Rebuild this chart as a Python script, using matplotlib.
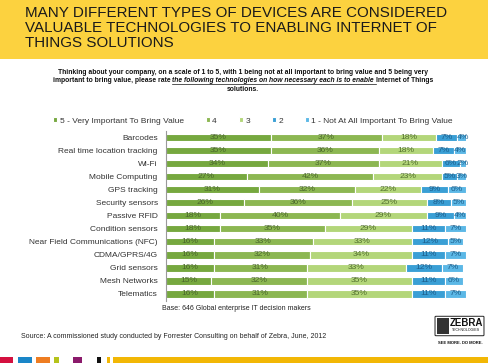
import numpy as np
import matplotlib
matplotlib.use('Agg')
import matplotlib.pyplot as plt
from matplotlib.patches import Rectangle, FancyBboxPatch

plt.rcParams['font.family'] = ['Liberation Sans', 'DejaVu Sans']

# Data
categories = ['Barcodes', 'Real time location tracking', 'Wi-Fi', 'Mobile Computing',
              'GPS tracking', 'Security sensors', 'Passive RFID', 'Condition sensors',
              'Near Field Communications (NFC)', 'CDMA/GPRS/4G', 'Grid sensors',
              'Mesh Networks', 'Telematics']
very_important = [35, 35, 34, 27, 31, 26, 18, 18, 16, 16, 16, 15, 16]
level_4 = [37, 36, 37, 42, 32, 36, 40, 35, 33, 32, 31, 32, 31]
level_3 = [18, 18, 21, 23, 22, 25, 29, 29, 33, 34, 33, 35, 35]
level_2 = [7, 7, 6, 5, 9, 8, 9, 11, 12, 11, 12, 11, 11]
not_important = [4, 4, 2, 3, 6, 5, 4, 7, 5, 7, 7, 6, 7]

series_names = ['5 - Very Important To Bring Value', '4', '3', '2',
                '1 - Not At All Important To Bring Value']
series = [very_important, level_4, level_3, level_2, not_important]
colors = ['#76a83f', '#8cb752', '#b3d67a', '#3a9fd5', '#5cb8e6']
label_colors = ['#4a672c', '#4a672c', '#52702e', '#1d5f8c', '#1d5f8c']

W, H = 489, 363
fig = plt.figure(figsize=(W / 100, H / 100), dpi=100)
fig.patch.set_facecolor('white')


def fx(x):
    return x / W


def fy(y):
    return 1 - y / H


# Header band
fig.patches.append(Rectangle((0, fy(59)), 1, 59 / H, transform=fig.transFigure,
                             facecolor='#fcd23f', edgecolor='none', zorder=0))
title_lines = ['MANY DIFFERENT TYPES OF DEVICES ARE CONSIDERED',
               'VALUABLE TECHNOLOGIES TO ENABLING INTERNET OF',
               'THINGS SOLUTIONS']
for i, line in enumerate(title_lines):
    fig.text(fx(25), fy(16.7 + 15 * i), line, fontsize=10.9, color='#1a1a1a',
             ha='left', va='baseline')

# Question text
qsize = 4.85
fig.text(fx(243), fy(72.5), 'Thinking about your company, on a scale of 1 to 5, with 1 being not '
         'at all important to bring value and 5 being very', fontsize=qsize,
         fontweight='bold', ha='center', va='center', color='#111111')
fig.text(fx(243), fy(89.3), 'solutions.', fontsize=qsize, fontweight='bold',
         ha='center', va='center', color='#111111')

pieces = [('important to bring value, please rate ', 'normal', False),
          ('the following technologies on', 'italic', True),
          (' ', 'normal', False),
          ('how necessary each is to enable ', 'italic', True),
          ('Internet of Things', 'normal', False)]
renderer = fig.canvas.get_renderer()
texts = []
widths = []
for s, style, ul in pieces:
    t = fig.text(0, fy(81), s, fontsize=qsize, fontweight='bold', style=style,
                 ha='left', va='center', color='#111111')
    bb = t.get_window_extent(renderer)
    texts.append(t)
    widths.append(bb.width)
x0 = 243 - sum(widths) / 2
for (s, style, ul), t, w in zip(pieces, texts, widths):
    t.set_x(fx(x0))
    if ul:
        fig.lines.append(plt.Line2D([fx(x0), fx(x0 + w)], [fy(84.3), fy(84.3)],
                                    transform=fig.transFigure, color='#111111',
                                    linewidth=0.5))
    x0 += w

# Bars
ax = fig.add_axes([fx(166), fy(300.5), 300 / W, (300.5 - 131.2) / H])
y = np.arange(len(categories))
left = np.zeros(len(categories))
for vals, c, lc, name in zip(series, colors, label_colors, series_names):
    vals = np.array(vals, dtype=float)
    ax.barh(y, vals, left=left, height=0.55, color=c, edgecolor='white',
            linewidth=0.8, label=name)
    for yi, (l, v) in enumerate(zip(left, vals)):
        ax.text(l + v / 2, yi, f'{int(v)}%', ha='center', va='center',
                fontsize=6.1, color=lc)
    left += vals

ax.set_xlim(0, 100)
ax.set_ylim(len(categories) - 0.5, -0.5)
ax.set_yticks(y)
ax.set_yticklabels(categories, fontsize=6, color='#333333')
ax.tick_params(axis='y', length=0, pad=6)
ax.set_xticks([])
for side in ['top', 'right', 'bottom']:
    ax.spines[side].set_visible(False)
ax.spines['left'].set_color('#9a9a9a')
ax.spines['left'].set_linewidth(0.8)
ax.set_facecolor('none')

leg = fig.legend(loc='center', bbox_to_anchor=(fx(253), fy(121)), ncol=5,
                 frameon=False, fontsize=6, handlelength=0.5, handleheight=0.5,
                 handletextpad=0.3, columnspacing=2.6, labelcolor='#333333')

fig.text(fx(236), fy(308), 'Base: 646 Global enterprise IT decision makers',
         fontsize=5.0, ha='center', va='center', color='#222222')
fig.text(fx(21), fy(336), 'Source: A commissioned study conducted by Forrester '
         'Consulting on behalf of Zebra, June, 2012', fontsize=5.0, ha='left',
         va='center', color='#222222')

# Logo
fig.patches.append(FancyBboxPatch((fx(436), fy(335)), 47 / W, 18 / H,
                                  boxstyle='round,pad=0.002', transform=fig.transFigure,
                                  facecolor='white', edgecolor='#222222', linewidth=0.7))
fig.patches.append(Rectangle((fx(437.5), fy(334)), 12 / W, 16 / H,
                             transform=fig.transFigure, facecolor='#333333',
                             edgecolor='none'))
fig.text(fx(466), fy(322.5), 'ZEBRA', fontsize=7, fontweight='bold', ha='center',
         va='center', color='#111111')
fig.text(fx(466), fy(330), 'TECHNOLOGIES', fontsize=2.6, ha='center', va='center',
         color='#111111')
fig.text(fx(460), fy(343.5), 'SEE MORE. DO MORE.', fontsize=3, fontweight='bold',
         ha='center', va='center', color='#111111')

# Bottom colour strip
strip = [(0, 13, '#d4103f'), (18, 14, '#1a86c8'), (36, 14, '#ee7d22'),
         (54, 5, '#b5c31b'), (73, 9, '#8b1a6b'), (97, 4, '#111111'),
         (107, 3, '#f2b705'), (113, 376, '#f2b705')]
for x, w, c in strip:
    fig.patches.append(Rectangle((fx(x), 0), w / W, 6.5 / H, transform=fig.transFigure,
                                 facecolor=c, edgecolor='none'))

fig.savefig('out.png', dpi=100)
